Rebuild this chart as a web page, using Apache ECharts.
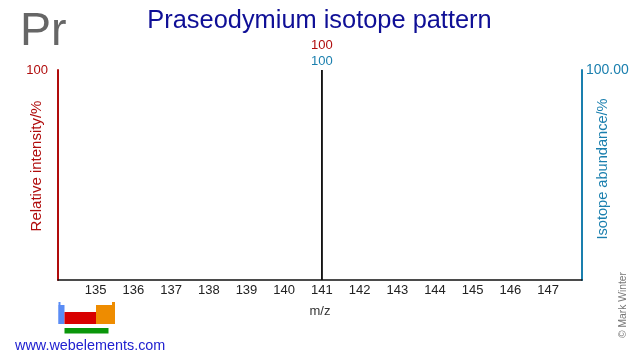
<!DOCTYPE html>
<html><head><meta charset="utf-8">
<style>html,body{margin:0;padding:0;background:#fff}#c{width:640px;height:360px}</style>
<script src="https://cdn.jsdelivr.net/npm/echarts@6/dist/echarts.min.js"></script>
</head><body><div id="c"></div>
<script>
const titleText = "Praseodymium isotope pattern";
const symbolText = "Pr";
const xName = "m/z";
const yLeftName = "Relative intensity/%";
const yRightName = "Isotope abundance/%";
const xTicks = [135,136,137,138,139,140,141,142,143,144,145,146,147];
const massNumbers = [141];
const relativeIntensity = [100];
const isotopeAbundance = [100];
const font = "Liberation Sans";
const chart = echarts.init(document.getElementById('c'), null, {renderer:'canvas'});
const pair = (a) => massNumbers.map((m,i)=>[m,a[i]]);
chart.setOption({
  animation:false,
  backgroundColor:'#fff',
  textStyle:{fontFamily:font},
  title:[
    {text:titleText,left:314.5,top:3,textAlign:'center',textStyle:{color:'#0f0f96',fontSize:25.4,fontWeight:'normal',fontFamily:font}},
    {text:symbolText,left:15,top:4,textStyle:{color:'#666',fontSize:46.5,fontWeight:'normal',fontFamily:font}}
  ],
  grid:{left:58,right:58,top:70,bottom:80,outerBoundsMode:'none'},
  xAxis:{type:'value',min:134,max:147.9,interval:1,
    name:xName,nameLocation:'middle',nameGap:25,nameTextStyle:{color:'#333',fontSize:13,fontFamily:font},
    axisLine:{show:true,lineStyle:{color:'#111',width:1.5}},axisTick:{show:false},splitLine:{show:false},
    axisLabel:{color:'#222',fontSize:13,margin:4,fontFamily:font,showMinLabel:true,showMaxLabel:false,
      formatter:v=>xTicks.includes(v)?String(v):''}},
  yAxis:[
    {type:'value',min:0,max:100,interval:100,position:'left',
     axisLine:{show:true,lineStyle:{color:'#b00c0c',width:2}},axisTick:{show:false},splitLine:{show:false},
     axisLabel:{color:'#b00c0c',fontSize:13,margin:10,fontFamily:font,formatter:v=>v===100?'100':''}},
    {type:'value',min:0,max:100,interval:100,position:'right',
     axisLine:{show:true,lineStyle:{color:'#1a7fae',width:2}},axisTick:{show:false},splitLine:{show:false},
     axisLabel:{color:'#1a7fae',fontSize:14,margin:4,fontFamily:font,formatter:v=>v===100?'100.00':''}}
  ],
  series:[
    {name:'Relative intensity',type:'bar',yAxisIndex:0,data:pair(relativeIntensity),barWidth:1.5,barGap:'-100%',
     itemStyle:{color:'#111'},
     label:{show:true,position:'top',distance:18,color:'#b00c0c',fontSize:13,fontFamily:font,formatter:p=>String(p.value[1])}},
    {name:'Isotope abundance',type:'bar',yAxisIndex:1,data:pair(isotopeAbundance),barWidth:1.5,barGap:'-100%',
     itemStyle:{color:'#111'},
     label:{show:true,position:'top',distance:2,color:'#1a7fae',fontSize:13,fontFamily:font,formatter:p=>String(p.value[1])}}
  ],
  graphic:[
    {type:'rect',shape:{x:58.5,y:302,width:2,height:22},style:{fill:'#5a8cf5'}},
    {type:'rect',shape:{x:58.5,y:305,width:6,height:19},style:{fill:'#5a8cf5'}},
    {type:'rect',shape:{x:64.5,y:312,width:31.5,height:12},style:{fill:'#d80000'}},
    {type:'rect',shape:{x:96,y:305,width:19,height:19},style:{fill:'#ee8c00'}},
    {type:'rect',shape:{x:112,y:302,width:3,height:4},style:{fill:'#ee8c00'}},
    {type:'rect',shape:{x:64.5,y:328,width:44,height:5.5},style:{fill:'#0a960a'}},
    {type:'text',x:15,y:346,style:{text:'www.webelements.com',fill:'#2020d0',font:'14.4px "Liberation Sans"',verticalAlign:'middle'}},
    {type:'text',x:36.5,y:166,rotation:Math.PI/2,style:{text:yLeftName,fill:'#b00c0c',font:'15px "Liberation Sans"',align:'center',verticalAlign:'middle'}},
    {type:'text',x:603,y:169,rotation:Math.PI/2,style:{text:yRightName,fill:'#1a7fae',font:'14.6px "Liberation Sans"',align:'center',verticalAlign:'middle'}},
    {type:'text',x:623,y:338,rotation:Math.PI/2,style:{text:'© Mark Winter',fill:'#777',font:'10.3px "Liberation Sans"',align:'left',verticalAlign:'middle'}}
  ]
});
</script></body></html>
